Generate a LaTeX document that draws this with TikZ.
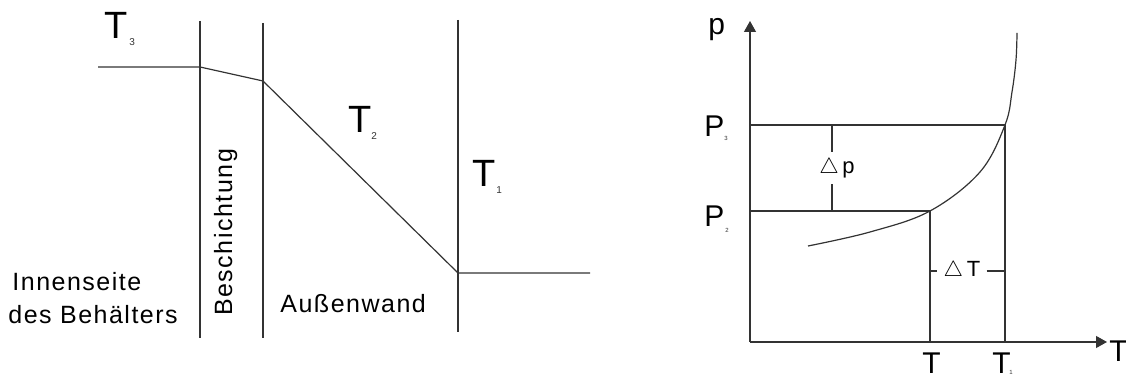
\documentclass[tikz,border=0pt]{standalone}
\usepackage{fontspec}
\setmainfont{Liberation Sans}
\newfontfamily\spaced[LetterSpace=6]{Liberation Sans}
\usetikzlibrary{arrows.meta}
\definecolor{ln}{HTML}{333333}
\tikzset{
  ln/.style={draw=ln, line width=0.6pt},
  axis/.style={ln, -{Triangle[length=5.5pt,width=6pt]}},
  bigT/.style={inner sep=0pt, anchor=base west, font=\fontsize{19}{19}\selectfont},
  sub/.style={inner sep=0pt, anchor=base west, font=\fontsize{5}{5}\selectfont, text=ln},
  tsub/.style={inner sep=0pt, anchor=base west, font=\fontsize{3}{3}\selectfont, text=ln},
  lbl/.style={inner sep=0pt, anchor=base west, font=\spaced\fontsize{12.5}{12.5}\selectfont},
  axl/.style={inner sep=0pt, anchor=base west, font=\fontsize{15}{15}\selectfont},
  dl/.style={inner sep=0pt, font=\fontsize{11}{11}\selectfont},
}
\begin{document}
\begin{tikzpicture}[x=0.5pt,y=-0.5pt]
\useasboundingbox (0,0) rectangle (1126,378);
% ---------- left diagram ----------
\coordinate (a0) at (98,67);
\coordinate (a1) at (200,67);
\coordinate (a2) at (263,81);
\coordinate (a3) at (458,273);
\coordinate (a4) at (590,273);
\coordinate (v1t) at (200,21);
\coordinate (v1b) at (200,338);
\coordinate (v2t) at (263,23);
\coordinate (v2b) at (263,338);
\coordinate (v3t) at (458,20);
\coordinate (v3b) at (458,332);
\draw[ln] (v1t) -- (v1b);
\draw[ln] (v2t) -- (v2b);
\draw[ln] (v3t) -- (v3b);
\draw[ln] (a0) -- (a1) -- (a2) -- (a3) -- (a4);
\node[bigT] (t3) at (104,39) {T};
\node[sub] (t3s) at (129,46) {3};
\node[bigT] (t2) at (348,133) {T};
\node[sub] (t2s) at (371,140) {2};
\node[bigT] (t1) at (472,187) {T};
\node[sub] (t1s) at (496,194) {1};
\node[lbl] (inn) at (12,291) {Innenseite};
\node[lbl] (des) at (8,324) {des Behälters};
\node[lbl, rotate=90] (bes) at (232,316) {Beschichtung};
\node[lbl] (aus) at (280,313) {Außenwand};
% ---------- right diagram ----------
\coordinate (o) at (750,342);
\coordinate (ytip) at (750,21);
\coordinate (xtip) at (1107,342);
\draw[axis] (o) -- (ytip);
\draw[axis] (o) -- (xtip);
\coordinate (p3l) at (750,125);
\coordinate (p3r) at (1005,125);
\coordinate (p2l) at (750,211);
\coordinate (p2r) at (930,211);
\coordinate (t2b) at (930,342);
\coordinate (t1b) at (1005,342);
\draw[ln] (p3l) -- (p3r) -- (t1b);
\draw[ln] (p2l) -- (p2r) -- (t2b);
\draw[ln] plot[smooth, tension=0.6] coordinates {(808,246) (870,232) (930,211) (980,172) (1005,125) (1012,92) (1016,60) (1017,33)};
% delta p
\node[dl] (dp) at (837,168) {$\triangle$\,p};
\coordinate (dpt) at (832,125);
\coordinate (dpb) at (832,211);
\draw[ln] (dpt) -- ([yshift=3pt]dp.north -| dpt);
\draw[ln] ([yshift=-3pt]dp.south -| dpb) -- (dpb);
% delta T
\node[dl] (dT) at (962,271) {$\triangle$\,T};
\coordinate (dTl) at (930,271);
\coordinate (dTr) at (1005,271);
\draw[ln] (dTl) -- ([xshift=-3pt]dT.west |- dTl);
\draw[ln] ([xshift=3pt]dT.east |- dTr) -- (dTr);
% axis labels
\node[axl] (pl) at (708,35) {p};
\node[axl] (P3) at (704,137) {P};
\node[tsub] (P3s) at (724,141) {3};
\node[axl] (P2) at (704,227) {P};
\node[tsub] (P2s) at (725,233) {2};
\node[axl] (Tx) at (1109,362) {T};
\node[axl] (Tb2) at (922,374) {T};
\node[axl] (Tb1) at (992,374) {T};
\node[tsub] (Tb1s) at (1009,375) {1};
\end{tikzpicture}
\end{document}
